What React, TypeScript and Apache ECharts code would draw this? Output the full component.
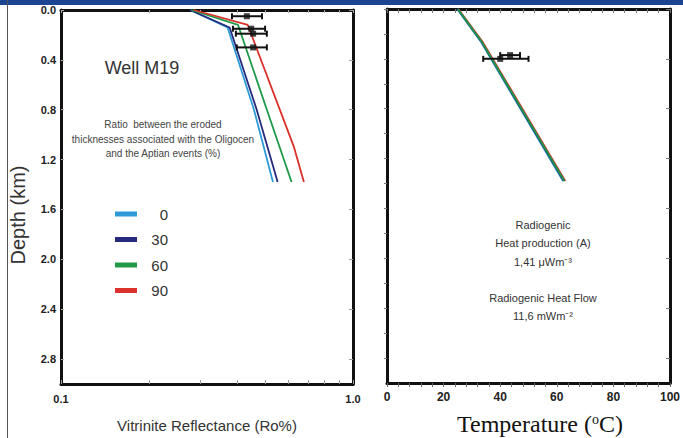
import React, { useEffect, useRef } from "react";
import * as echarts from "echarts";

// ---- Left panel: vitrinite reflectance curves (Ro %) vs depth (km)
const seriesNames = ["0", "30", "60", "90"];
const seriesColors = ["#2e9bd8", "#262a7c", "#1f9a48", "#d8322b"];

const depth0 = [0, 0.14, 0.8, 1.38];
const ro0 = [0.277, 0.372, 0.458, 0.532];
const depth30 = [0, 0.14, 0.8, 1.38];
const ro30 = [0.277, 0.378, 0.468, 0.552];
const depth60 = [0, 0.12, 0.8, 1.38];
const ro60 = [0.28, 0.404, 0.507, 0.616];
const depth90 = [0, 0.12, 1.1, 1.38];
const ro90 = [0.285, 0.436, 0.628, 0.679];

// measured Ro with error bars
const obsRoDepth = [0.05, 0.15, 0.19, 0.3];
const obsRo = [0.433, 0.448, 0.455, 0.455];
const obsRoLow = [0.385, 0.388, 0.397, 0.4];
const obsRoHigh = [0.488, 0.5, 0.507, 0.507];

// ---- Right panel: temperature (°C) vs depth (km)
const tDepth = [0, 0.26, 1.38];
const temp0 = [24.8, 33.1, 62.2];
const temp30 = [24.9, 33.3, 62.5];
const temp60 = [25.0, 33.4, 62.7];
const temp90 = [25.2, 33.7, 63.0];

const obsTDepth = [0.4, 0.37];
const obsT = [40, 43.5];
const obsTLow = [34, 40];
const obsTHigh = [50, 47];

const depthTicks = [0, 0.4, 0.8, 1.2, 1.6, 2.0, 2.4, 2.8];
const depthMinorTicks = [0, 0.2, 0.4, 0.6, 0.8, 1.0, 1.2, 1.4, 1.6, 1.8, 2.0, 2.2, 2.4, 2.6, 2.8];
const roTicks = [0.1, 0.2, 0.3, 0.4, 0.5, 0.6, 0.7, 0.8, 0.9, 1.0];
const tempLabels = [0, 20, 40, 60, 80, 100];
const tempTicks = [0, 4, 8, 12, 16, 20, 24, 28, 32, 36, 40, 44, 48, 52, 56, 60, 64, 68, 72, 76, 80, 84, 88, 92, 96, 100];

const zip = (xs: number[], ys: number[]) => xs.map((x, i) => [x, ys[i]]);

const errorBarItem = (params: any, api: any) => {
  const y = api.value(1);
  const p1 = api.coord([api.value(2), y]);
  const p2 = api.coord([api.value(3), y]);
  const c = 3;
  const st = { stroke: "#111", lineWidth: 2 };
  return {
    type: "group",
    children: [
      { type: "line", shape: { x1: p1[0], y1: p1[1], x2: p2[0], y2: p2[1] }, style: st },
      { type: "line", shape: { x1: p1[0], y1: p1[1] - c, x2: p1[0], y2: p1[1] + c }, style: st },
      { type: "line", shape: { x1: p2[0], y1: p2[1] - c, x2: p2[0], y2: p2[1] + c }, style: st },
    ],
  };
};

const FONT = "Liberation Sans, Arial, sans-serif";
const boxLine = { show: true, onZero: false, lineStyle: { color: "#111", width: 3 } };

export default function App() {
  const ref = useRef<HTMLDivElement>(null);
  useEffect(() => {
    if (!ref.current) return;
    const chart = echarts.init(ref.current, undefined, { renderer: "svg" });

    const roData = [zip(ro0, depth0), zip(ro30, depth30), zip(ro60, depth60), zip(ro90, depth90)];
    const tData = [zip(temp0, tDepth), zip(temp30, tDepth), zip(temp60, tDepth), zip(temp90, tDepth)];

    const lineSeries: any[] = [];
    seriesNames.forEach((n, i) => {
      lineSeries.push({
        type: "line",
        name: n,
        xAxisIndex: 0,
        yAxisIndex: 0,
        data: roData[i],
        showSymbol: false,
        lineStyle: { color: seriesColors[i], width: 1.8 },
        itemStyle: { color: seriesColors[i] },
        z: 3,
      });
    });
    [3, 0, 1, 2].forEach((i) => {
      lineSeries.push({
        type: "line",
        name: seriesNames[i],
        xAxisIndex: 2,
        yAxisIndex: 2,
        data: tData[i],
        showSymbol: false,
        lineStyle: { color: seriesColors[i], width: 1.8 },
        itemStyle: { color: seriesColors[i] },
        z: 3,
      });
    });

    const axisLabelStyle = { color: "#222", fontSize: 11, fontFamily: FONT, fontWeight: "bold" as const };

    const option: any = {
      animation: false,
      backgroundColor: "#fff",
      grid: [
        { left: 61, top: 10, width: 292, height: 374, show: false },
        { left: 387, top: 9, width: 292, height: 374, show: false },
      ],
      xAxis: [
        {
          gridIndex: 0, type: "log", logBase: 10, min: 0.1, max: 1, position: "bottom",
          axisLine: boxLine, splitLine: { show: false },
          axisTick: { show: true, inside: true, length: 4, lineStyle: { color: "#999" }, customValues: roTicks },
          axisLabel: { ...axisLabelStyle, margin: 9, formatter: (v: number) => v.toFixed(1) },
        },
        {
          gridIndex: 0, type: "log", logBase: 10, min: 0.1, max: 1, position: "top",
          axisLine: boxLine, splitLine: { show: false }, axisLabel: { show: false },
          axisTick: { show: true, inside: true, length: 3, lineStyle: { color: "#aaa" }, customValues: roTicks },
        },
        {
          gridIndex: 1, type: "value", min: 0, max: 100, interval: 20, position: "bottom",
          axisLine: boxLine, splitLine: { show: false },
          axisTick: { show: true, length: 4, lineStyle: { color: "#666" }, customValues: tempTicks },
          axisLabel: { color: "#222", fontSize: 12, fontFamily: FONT, fontWeight: "bold", margin: 8, customValues: tempLabels },
        },
        {
          gridIndex: 1, type: "value", min: 0, max: 100, interval: 20, position: "top",
          axisLine: boxLine, splitLine: { show: false }, axisLabel: { show: false },
          axisTick: { show: true, inside: true, length: 4, lineStyle: { color: "#777" }, customValues: tempTicks },
        },
      ],
      yAxis: [
        {
          gridIndex: 0, type: "value", inverse: true, min: 0, max: 3, interval: 0.4, position: "left",
          axisLine: boxLine, splitLine: { show: false },
          axisTick: { show: true, inside: true, length: 3, lineStyle: { color: "#aaa" }, customValues: depthTicks },
          axisLabel: { ...axisLabelStyle, margin: 5, customValues: depthTicks, formatter: (v: number) => v.toFixed(1) },
        },
        {
          gridIndex: 0, type: "value", inverse: true, min: 0, max: 3, interval: 0.4, position: "right",
          axisLine: boxLine, splitLine: { show: false }, axisLabel: { show: false },
          axisTick: { show: true, inside: true, length: 4, lineStyle: { color: "#999" }, customValues: depthTicks },
        },
        {
          gridIndex: 1, type: "value", inverse: true, min: 0, max: 3, interval: 0.4, position: "left",
          axisLine: boxLine, splitLine: { show: false }, axisLabel: { show: false },
          axisTick: { show: true, length: 3, lineStyle: { color: "#777" }, customValues: depthMinorTicks },
        },
        {
          gridIndex: 1, type: "value", inverse: true, min: 0, max: 3, interval: 0.4, position: "right",
          axisLine: boxLine, splitLine: { show: false }, axisLabel: { show: false },
          axisTick: { show: true, inside: true, length: 4, lineStyle: { color: "#777" }, customValues: depthTicks },
        },
      ],
      legend: {
        data: seriesNames,
        orient: "vertical",
        left: 110,
        top: 201,
        icon: "rect",
        itemWidth: 22,
        itemHeight: 5,
        itemGap: 9.5,
        selectedMode: false,
        formatter: (name: string) => `{r|${name}}`,
        textStyle: {
          color: "#333", fontSize: 15, fontFamily: FONT, lineHeight: 16,
          rich: { r: { width: 26, align: "right", fontSize: 15, fontFamily: FONT, color: "#333", lineHeight: 16 } },
        },
      },
      series: [
        ...lineSeries,
        {
          type: "custom",
          xAxisIndex: 0,
          yAxisIndex: 0,
          renderItem: errorBarItem,
          encode: { x: 0, y: 1 },
          data: obsRo.map((r, i) => [r, obsRoDepth[i], obsRoLow[i], obsRoHigh[i]]),
          z: 5,
        },
        {
          type: "scatter",
          xAxisIndex: 0,
          yAxisIndex: 0,
          symbol: "rect",
          symbolSize: 6,
          itemStyle: { color: "#111" },
          data: zip(obsRo, obsRoDepth),
          z: 6,
        },
        {
          type: "custom",
          xAxisIndex: 2,
          yAxisIndex: 2,
          renderItem: errorBarItem,
          encode: { x: 0, y: 1 },
          data: obsT.map((t, i) => [t, obsTDepth[i], obsTLow[i], obsTHigh[i]]),
          z: 5,
        },
        {
          type: "scatter",
          xAxisIndex: 2,
          yAxisIndex: 2,
          symbol: "rect",
          symbolSize: 6,
          itemStyle: { color: "#111" },
          data: zip(obsT, obsTDepth),
          z: 6,
        },
      ],
      graphic: [
        { type: "rect", left: 0, top: 0, shape: { width: 683, height: 5 }, style: { fill: "#1b4593" }, z: 10 },
        { type: "rect", left: 7, top: 0, shape: { width: 1, height: 438 }, style: { fill: "#555" }, z: 10 },
        {
          type: "text", x: 18, y: 215, rotation: Math.PI / 2,
          style: { text: "Depth (km)", fill: "#333", font: `20px ${FONT}`, textAlign: "center", textVerticalAlign: "middle" },
        },
        {
          type: "text", x: 142, y: 68,
          style: { text: "Well M19", fill: "#333", font: `18px ${FONT}`, textAlign: "center", textVerticalAlign: "middle" },
        },
        {
          type: "text", x: 163, y: 139,
          style: {
            text: "Ratio  between the eroded\nthicknesses associated with the Oligocen\nand the Aptian events (%)",
            fill: "#444", font: `10px ${FONT}`, textAlign: "center", textVerticalAlign: "middle", lineHeight: 14.5,
          },
        },
        {
          type: "text", x: 207, y: 425,
          style: { text: "Vitrinite Reflectance (Ro%)", fill: "#333", font: `15px ${FONT}`, textAlign: "center", textVerticalAlign: "middle" },
        },
        {
          type: "text", x: 543, y: 243,
          style: {
            text: "Radiogenic\nHeat production (A)\n1,41 μWm⁻³",
            fill: "#333", font: `11px ${FONT}`, textAlign: "center", textVerticalAlign: "middle", lineHeight: 18.5,
          },
        },
        {
          type: "text", x: 543, y: 307,
          style: {
            text: "Radiogenic Heat Flow\n11,6 mWm⁻²",
            fill: "#333", font: `11px ${FONT}`, textAlign: "center", textVerticalAlign: "middle", lineHeight: 18.5,
          },
        },
        {
          type: "text", x: 540, y: 424,
          style: {
            text: "{a|Temperature (}{s|o}{a|C)}",
            textAlign: "center", textVerticalAlign: "middle",
            rich: {
              a: { fontFamily: "Liberation Serif, serif", fontSize: 24, fill: "#111", color: "#111" },
              s: { fontFamily: "Liberation Serif, serif", fontSize: 14, fill: "#111", color: "#111", verticalAlign: "top", padding: [0, 0, 10, 0] },
            },
          },
        },
      ],
    };
    chart.setOption(option);
    return () => chart.dispose();
  }, []);
  return <div ref={ref} style={{ position: "fixed", left: 0, top: 0, width: 683, height: 438 }} />;
}
